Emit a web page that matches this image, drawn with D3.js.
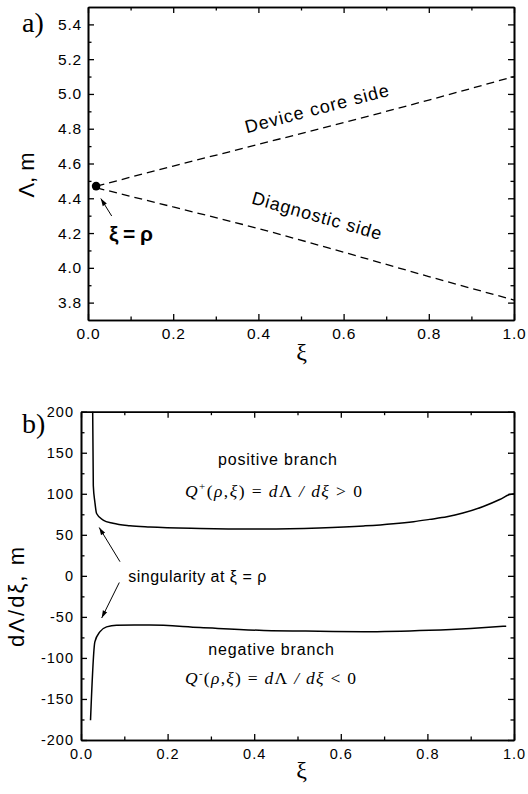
<!DOCTYPE html>
<html>
<head>
<meta charset="utf-8">
<script src="https://cdn.jsdelivr.net/npm/d3@7"></script>
<style>
  body { margin: 0; background: #fff; }
  svg { display: block; }
</style>
</head>
<body>
<script>
// ---- Panel a: Λ versus ξ on the two sides of the chord ----
const xiA       = [0.02, 0.2, 0.4, 0.6, 0.8, 1.0];
const coreSide  = [4.47, 4.585, 4.71, 4.835, 4.965, 5.10];
const diagSide  = [4.46, 4.35, 4.226, 4.09, 3.95, 3.815];
const startXi = 0.019, startLambda = 4.47;   // the point ξ = ρ
const aXTicks = [0, 0.2, 0.4, 0.6, 0.8, 1.0];
const aYTicks = [3.8, 4.0, 4.2, 4.4, 4.6, 4.8, 5.0, 5.2, 5.4];

// ---- Panel b: dΛ/dξ, positive and negative branches ----
const xiPos     = [0.027, 0.0284, 0.032, 0.036, 0.051, 0.074, 0.113, 0.159, 0.275, 0.422, 0.55, 0.653, 0.768, 0.805, 0.845, 0.882, 0.929, 0.967, 0.99, 1.0];
const posBranch = [200, 110, 90, 76, 68, 64, 61, 59.5, 57.8, 57, 58.3, 60.8, 66, 68.8, 72, 76.5, 84.5, 93, 99, 100];
const xiNeg     = [0.022, 0.032, 0.044, 0.059, 0.082, 0.159, 0.275, 0.422, 0.55, 0.653, 0.805, 0.9, 0.982];
const negBranch = [-176, -80.5, -68, -62.2, -60.1, -60, -63, -66.5, -67.5, -68, -66.2, -64, -61.3];
const bXTicks = [0, 0.2, 0.4, 0.6, 0.8, 1.0];
const bYTicks = [-200, -150, -100, -50, 0, 50, 100, 150, 200];

const W = 528, H = 794;
const svg = d3.select("body").append("svg").attr("width", W).attr("height", H);

const defs = svg.append("defs");
defs.append("marker")
  .attr("id", "head")
  .attr("viewBox", "0 -4 10 8")
  .attr("refX", 10).attr("refY", 0)
  .attr("markerWidth", 8).attr("markerHeight", 6)
  .attr("markerUnits", "userSpaceOnUse")
  .attr("orient", "auto")
  .append("path").attr("d", "M0,-3.2L10,0L0,3.2Z").attr("fill", "#000");

const SANS = "'Liberation Sans', Arial, Helvetica, sans-serif";
const SERIF = "'Liberation Serif', 'Times New Roman', serif";

// Framed axes with inward major and minor ticks on all four sides
function frame(g, x, y, opt) {
  const [x0, x1] = x.range(), [y0, y1] = y.range();
  const styleAxis = sel => {
    sel.select(".domain").attr("stroke", "#000").attr("stroke-width", 1.6);
    sel.selectAll(".tick line").attr("stroke", "#000").attr("stroke-width", 1.3);
    sel.selectAll("text")
      .attr("font-family", SANS).attr("font-size", opt.tickFont)
      .attr("letter-spacing", opt.spacing).attr("fill", "#000");
  };
  const major = 6, minor = 3.5;
  // bottom
  g.append("g").attr("transform", `translate(0,${y0})`)
    .call(d3.axisBottom(x).tickValues(opt.xTicks).tickSize(-major).tickSizeOuter(0)
      .tickPadding(opt.xPad).tickFormat(opt.xFmt)).call(styleAxis);
  g.append("g").attr("transform", `translate(0,${y0})`)
    .call(d3.axisBottom(x).tickValues(opt.xMinor).tickSize(-minor).tickSizeOuter(0).tickFormat(""))
    .call(styleAxis);
  // top
  g.append("g").attr("transform", `translate(0,${y1})`)
    .call(d3.axisTop(x).tickValues(opt.xTicks).tickSize(-major).tickSizeOuter(0).tickFormat(""))
    .call(styleAxis);
  g.append("g").attr("transform", `translate(0,${y1})`)
    .call(d3.axisTop(x).tickValues(opt.xMinor).tickSize(-minor).tickSizeOuter(0).tickFormat(""))
    .call(styleAxis);
  // left
  g.append("g").attr("transform", `translate(${x0},0)`)
    .call(d3.axisLeft(y).tickValues(opt.yTicks).tickSize(-major).tickSizeOuter(0)
      .tickPadding(opt.yPad).tickFormat(opt.yFmt)).call(styleAxis);
  g.append("g").attr("transform", `translate(${x0},0)`)
    .call(d3.axisLeft(y).tickValues(opt.yMinor).tickSize(-minor).tickSizeOuter(0).tickFormat(""))
    .call(styleAxis);
  // right
  g.append("g").attr("transform", `translate(${x1},0)`)
    .call(d3.axisRight(y).tickValues(opt.yTicks).tickSize(-major).tickSizeOuter(0).tickFormat(""))
    .call(styleAxis);
  g.append("g").attr("transform", `translate(${x1},0)`)
    .call(d3.axisRight(y).tickValues(opt.yMinor).tickSize(-minor).tickSizeOuter(0).tickFormat(""))
    .call(styleAxis);
}

function text(g, str, x, y, o = {}) {
  const t = g.append("text").attr("x", x).attr("y", y)
    .attr("font-family", o.family || SANS)
    .attr("font-size", o.size || 16)
    .attr("font-weight", o.weight || "normal")
    .attr("text-anchor", o.anchor || "start")
    .attr("fill", "#000")
    .text(str);
  if (o.length) t.attr("textLength", o.length).attr("lengthAdjust", "spacing");
  if (o.rotate !== undefined) t.attr("transform", `rotate(${o.rotate},${x},${y})`);
  return t;
}

function arrow(g, x1, y1, x2, y2) {
  g.append("line").attr("x1", x1).attr("y1", y1).attr("x2", x2).attr("y2", y2)
    .attr("stroke", "#000").attr("stroke-width", 1).attr("marker-end", "url(#head)");
}

// ================= Panel a =================
const gA = svg.append("g");
const xA = d3.scaleLinear().domain([0, 1]).range([88, 514]);
const yA = d3.scaleLinear().domain([3.7, 5.5]).range([320, 7]);

frame(gA, xA, yA, {
  xTicks: aXTicks, xMinor: [0.1, 0.3, 0.5, 0.7, 0.9],
  yTicks: aYTicks, yMinor: [3.9, 4.1, 4.3, 4.5, 4.7, 4.9, 5.1, 5.3],
  xFmt: d3.format(".1f"), yFmt: d3.format(".1f"),
  xPad: 8, yPad: 6, tickFont: 15.5, spacing: 0.8
});

const lineA = d3.line().x(d => xA(d[0])).y(d => yA(d[1])).curve(d3.curveMonotoneX);
[coreSide, diagSide].forEach(vals => {
  gA.append("path")
    .datum(xiA.map((v, i) => [v, vals[i]]))
    .attr("d", lineA).attr("fill", "none")
    .attr("stroke", "#000").attr("stroke-width", 1.3)
    .attr("stroke-dasharray", "8,5");
});
gA.append("circle").attr("cx", xA(startXi)).attr("cy", yA(startLambda)).attr("r", 4.3).attr("fill", "#000");

arrow(gA, 111.7, 216, 100.8, 198.5);
text(gA, "ξ = ρ", 109, 241, { size: 21, weight: "bold", length: 44 });

const angCore = Math.atan2(yA(coreSide[5]) - yA(coreSide[0]), xA(1) - xA(xiA[0])) * 180 / Math.PI;
const angDiag = Math.atan2(yA(diagSide[5]) - yA(diagSide[0]), xA(1) - xA(xiA[0])) * 180 / Math.PI;
text(gA, "Device core side", 246.7, 133.3, { size: 18, length: 148, rotate: angCore });
text(gA, "Diagnostic side", 250.7, 203.3, { size: 18, length: 134, rotate: angDiag + 0.8 });

text(gA, "a)", 22, 32, { family: SERIF, size: 28 });
text(gA, "Λ, m", 33.5, 175, { size: 22, anchor: "middle", rotate: -90, length: 45 });
text(gA, "ξ", 301.5, 359.5, { family: SERIF, size: 24, anchor: "middle" });

// ================= Panel b =================
const gB = svg.append("g");
const xB = d3.scaleLinear().domain([0, 1]).range([81, 514]);
const yB = d3.scaleLinear().domain([-200, 200]).range([740, 411.7]);

frame(gB, xB, yB, {
  xTicks: bXTicks, xMinor: [0.1, 0.3, 0.5, 0.7, 0.9],
  yTicks: bYTicks, yMinor: [-175, -125, -75, -25, 25, 75, 125, 175],
  xFmt: d3.format(".1f"), yFmt: d => String(d),
  xPad: 9, yPad: 7, tickFont: 14.5, spacing: 1
});

const lineB = d3.line().x(d => xB(d[0])).y(d => yB(d[1])).curve(d3.curveMonotoneX);
[[xiPos, posBranch], [xiNeg, negBranch]].forEach(([xs, vals]) => {
  gB.append("path")
    .datum(xs.map((v, i) => [v, vals[i]]))
    .attr("d", lineB).attr("fill", "none")
    .attr("stroke", "#000").attr("stroke-width", 1.5);
});

text(gB, "positive branch", 218, 465, { size: 16, length: 119 });
text(gB, "negative branch", 208.3, 655, { size: 16, length: 125.7 });
text(gB, "singularity at ξ = ρ", 128.3, 582, { size: 16, length: 138 });
arrow(gB, 120, 561.7, 99.2, 527.5);
arrow(gB, 119.3, 582.5, 101.7, 618);

// Q±(ρ,ξ) = dΛ/dξ ≷ 0 as one flowing line of serif math
function formula(g, x, baseline, sign, rel, width) {
  const t = g.append("text").attr("x", x).attr("y", baseline)
    .attr("font-family", SERIF).attr("font-size", 17.5).attr("fill", "#000")
    .style("white-space", "pre")
    .attr("textLength", width).attr("lengthAdjust", "spacing");
  const part = (s, o = {}) => {
    const p = t.append("tspan").text(s);
    if (o.it) p.attr("font-style", "italic");
    if (o.size) p.attr("font-size", o.size);
    if (o.dy) p.attr("dy", o.dy);
    return p;
  };
  part("Q", { it: 1 });
  part(sign, { size: 11, dy: -7 });
  part("(", { dy: 7 });
  part("ρ", { it: 1 });
  part(",");
  part("ξ", { it: 1 });
  part(") = ");
  part("d", { it: 1 });
  part("Λ");
  part(" / ", { it: 1 });
  part("dξ", { it: 1 });
  part(` ${rel} 0`);
}
formula(gB, 185, 497, "+", ">", 177);
formula(gB, 185, 683.5, "-", "<", 171);

text(gB, "b)", 22, 433, { family: SERIF, size: 28 });
text(gB, "dΛ/dξ, m", 24, 597, { size: 22, anchor: "middle", rotate: -90, length: 100 });
text(gB, "ξ", 301.5, 778.3, { family: SERIF, size: 24, anchor: "middle" });
</script>
</body>
</html>
